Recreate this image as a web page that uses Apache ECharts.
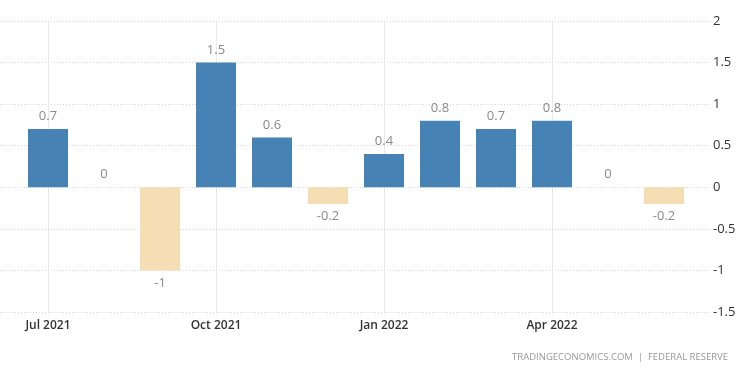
<!DOCTYPE html>
<html>
<head>
<meta charset="utf-8">
<script src="https://cdn.jsdelivr.net/npm/echarts@6/dist/echarts.min.js"></script>
<style>
  html, body { margin: 0; padding: 0; background: #fff; }
  #chart { width: 750px; height: 375px; }
</style>
</head>
<body>
<div id="chart"></div>
<script>
const categories = [
  'Jul 2021', 'Aug 2021', 'Sep 2021', 'Oct 2021', 'Nov 2021', 'Dec 2021',
  'Jan 2022', 'Feb 2022', 'Mar 2022', 'Apr 2022', 'May 2022', 'Jun 2022',
]
const values = [0.7, 0, -1, 1.5, 0.6, -0.2, 0.4, 0.8, 0.7, 0.8, 0, -0.2]
const yMin = -1.5
const yMax = 2
const yStep = 0.5

const blue = '#4682b4'
const beige = '#f5deb3'
const font = 'Open Sans'

const chart = echarts.init(document.getElementById('chart'))

const barData = values.map(v => ({
  value: v,
  itemStyle: { color: v < 0 ? beige : blue },
  label: { position: v < 0 ? 'bottom' : 'top' },
}))

const option = {
  animation: false,
  textStyle: { fontFamily: font },
  grid: [
    // bars: category centres spaced 56px, first at x=48
    { left: 48, right: 86, top: 21, bottom: 63 },
    // background grid for the full-width horizontal lines + right labels
    { left: 0, right: 39, top: 21, bottom: 63 },
  ],
  xAxis: [
    {
      type: 'category',
      gridIndex: 0,
      data: categories,
      boundaryGap: false,
      axisLine: { show: false },
      axisTick: {
        show: true,
        interval: 2,
        length: 6,
        lineStyle: { color: '#e3e3e3' },
      },
      splitLine: {
        show: true,
        interval: 2,
        lineStyle: { color: '#e8e8e8', width: 1 },
      },
      axisLabel: {
        interval: 2,
        color: '#333',
        fontSize: 12,
        fontWeight: 600,
        margin: 8,
        fontFamily: font,
      },
    },
    { type: 'value', gridIndex: 1, show: false },
  ],
  yAxis: [
    { type: 'value', gridIndex: 0, min: yMin, max: yMax, interval: yStep, show: false },
    {
      type: 'value',
      gridIndex: 1,
      position: 'right',
      min: yMin,
      max: yMax,
      interval: yStep,
      axisLine: { show: false },
      axisTick: { show: false },
      splitLine: {
        lineStyle: { color: '#d6d6d6', type: [1, 2], width: 1 },
      },
      axisLabel: {
        color: '#333',
        fontSize: 13,
        margin: 2,
        align: 'left',
        fontFamily: font,
      },
    },
  ],
  series: [
    {
      type: 'bar',
      xAxisIndex: 0,
      yAxisIndex: 0,
      data: barData,
      barWidth: 40,
      clip: false,
      label: {
        show: true,
        color: '#8a8a8a',
        fontSize: 13,
        distance: 6,
        fontFamily: font,
      },
    },
  ],
  graphic: [
    {
      type: 'text',
      right: 22,
      top: 352,
      style: {
        text: 'TRADINGECONOMICS.COM  |  FEDERAL RESERVE',
        fill: '#999',
        font: '9.5px "Open Sans"',
      },
    },
  ],
}

chart.setOption(option)
</script>
</body>
</html>
